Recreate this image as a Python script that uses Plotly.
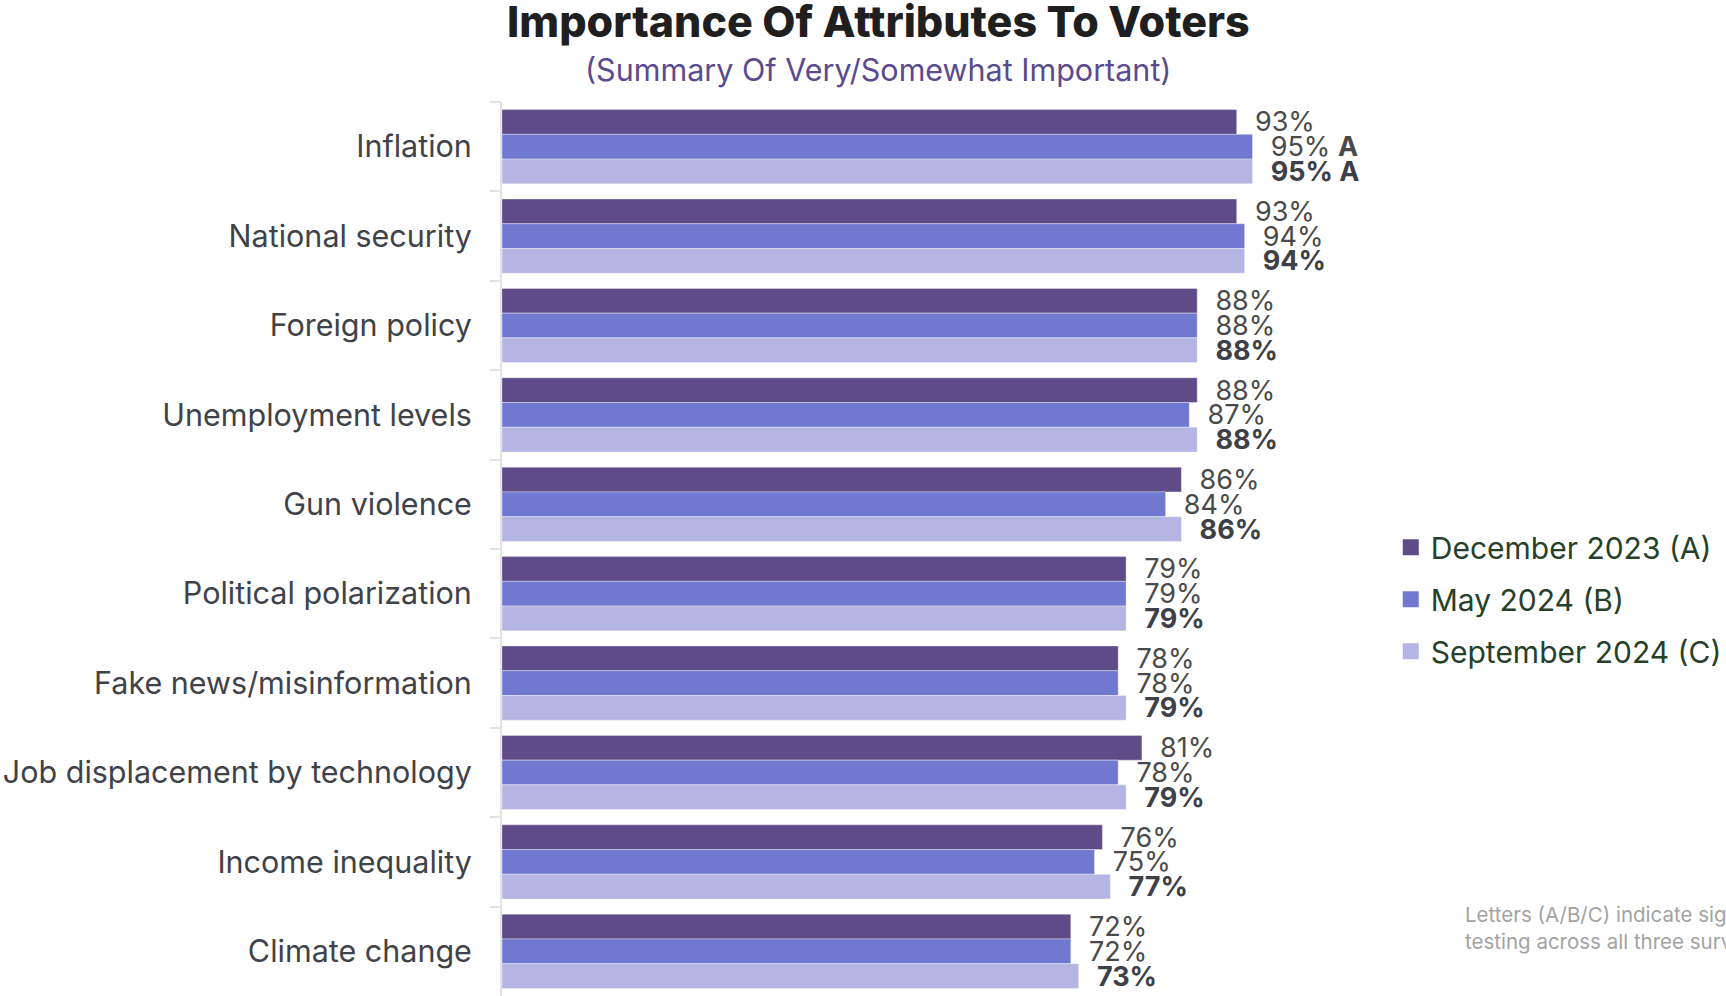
import plotly.graph_objects as go

categories = ["Inflation", "National security", "Foreign policy", "Unemployment levels",
              "Gun violence", "Political polarization", "Fake news/misinformation",
              "Job displacement by technology", "Income inequality", "Climate change"]
dec_2023 = [93, 93, 88, 88, 86, 79, 78, 81, 76, 72]
may_2024 = [95, 94, 88, 87, 84, 79, 78, 78, 75, 72]
sep_2024 = [95, 94, 88, 88, 86, 79, 79, 79, 77, 73]
may_sig = ["A", "", "", "", "", "", "", "", "", ""]
sep_sig = ["A", "", "", "", "", "", "", "", "", ""]
series_names = ["December 2023 (A)", "May 2024 (B)", "September 2024 (C)"]
colors = ["#5f4b88", "#7078cf", "#b4b5e2"]

FONT = "Inter"

def labels(vals, sig=None, bold=False):
    out = []
    for i, v in enumerate(vals):
        s = f"{v}%"
        if sig and sig[i]:
            s += f" <b>{sig[i]}</b>"
        if bold:
            s = f"<b>{s}</b>"
        out.append("  " + s)
    return out

fig = go.Figure()
series = [
    (dec_2023, labels(dec_2023), "#4a4a4a"),
    (may_2024, labels(may_2024, may_sig), "#4a4a4a"),
    (sep_2024, labels(sep_2024, sep_sig, bold=True), "#3d4047"),
]
for i, (vals, txt, tcol) in enumerate(series):
    fig.add_trace(go.Bar(
        y=categories, x=vals, orientation="h", name=series_names[i],
        marker=dict(color=colors[i], line=dict(color="rgba(255,255,255,0.35)", width=1)),
        text=txt, textposition="outside", constraintext="none", cliponaxis=False,
        textfont=dict(family=FONT, size=27, color=tcol),
        showlegend=False,
    ))
# legend entries (square swatches)
for i in range(3):
    fig.add_trace(go.Scatter(
        x=[None], y=[None], mode="markers", name=series_names[i],
        marker=dict(symbol="square", size=18, color=colors[i]),
        legendgroup=f"g{i}", showlegend=True,
    ))

fig.update_layout(
    width=1726, height=996,
    margin=dict(l=502, r=434, t=102, b=0, autoexpand=False),
    paper_bgcolor="white", plot_bgcolor="white",
    barmode="group", bargap=0.17, bargroupgap=0,
    showlegend=True,
    legend=dict(x=1.125, y=0.531, xanchor="left", yanchor="top",
                font=dict(family=FONT, size=30, color="#27402a"),
                tracegroupgap=10, itemwidth=30, bgcolor="rgba(0,0,0,0)"),
    font=dict(family=FONT),
    annotations=[
        dict(text="Importance Of Attributes To Voters", xref="paper", yref="paper",
             x=0.476, y=1.0905, xanchor="center", yanchor="middle", showarrow=False,
             font=dict(family="Inter", size=43, weight=800, color="#1f1f1f")),
        dict(text="(Summary Of Very/Somewhat Important)", xref="paper", yref="paper",
             x=0.476, y=1.0358, xanchor="center", yanchor="middle", showarrow=False,
             font=dict(family=FONT, size=30.5, color="#5b4a8f")),
        dict(text="Letters (A/B/C) indicate significance from<br>testing across all three surveys",
             xref="paper", yref="paper", x=1.216, y=0.107, xanchor="left", yanchor="top",
             align="left", showarrow=False,
             font=dict(family=FONT, size=20.5, color="#a3a3a3")),
    ],
)
fig.update_xaxes(range=[0, 100], visible=False, showgrid=False, zeroline=False)
fig.update_yaxes(autorange="reversed", showline=True, linecolor="#e3e3e3", linewidth=2,
                 ticks="outside", tickson="boundaries", ticklen=10, tickcolor="#e3e3e3",
                 tickwidth=2, ticklabelstandoff=22, showgrid=False,
                 tickfont=dict(family=FONT, size=30.5, color="#3f4349"))

fig.write_html("out.html", config={"displayModeBar": False},
               post_script="document.body.style.margin='0';")
